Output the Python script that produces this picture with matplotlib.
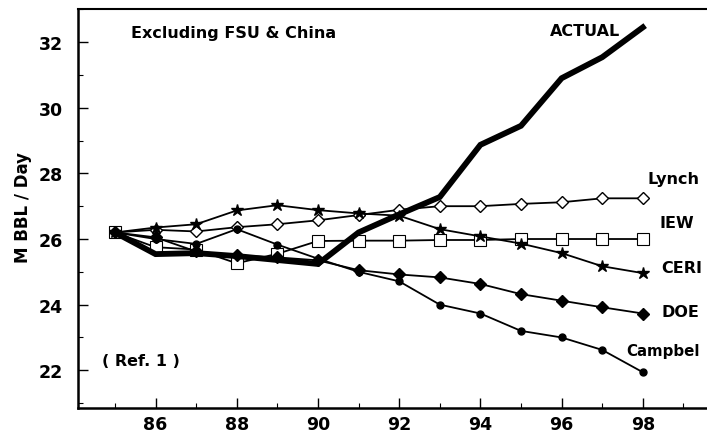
import matplotlib
matplotlib.use('Agg')
import matplotlib.pyplot as plt
from matplotlib.ticker import MultipleLocator

plt.rcParams['font.family'] = ['DejaVu Sans']
plt.rcParams['font.weight'] = 'bold'

# 年份 (19xx)
years = [85, 86, 87, 88, 89, 90, 91, 92, 93, 94, 95, 96, 97, 98]

# 各预测 / 实际产量 M BBL/Day
actual = [26.2, 25.54, 25.57, 25.48, 25.36, 25.24, 26.2, 26.75, 27.28, 28.87, 29.45, 30.9, 31.54, 32.45]
lynch = [26.2, 26.28, 26.23, 26.36, 26.45, 26.57, 26.73, 26.89, 27.0, 27.0, 27.07, 27.12, 27.24, 27.24]
iew = [26.2, 25.75, 25.68, 25.26, 25.55, 25.94, 25.95, 25.95, 25.97, 25.97, 26.0, 26.0, 26.0, 26.0]
ceri = [26.2, 26.35, 26.45, 26.87, 27.03, 26.88, 26.78, 26.71, 26.3, 26.08, 25.86, 25.57, 25.17, 24.96]
doe = [26.2, 26.05, 25.62, 25.5, 25.44, 25.35, 25.05, 24.92, 24.83, 24.63, 24.32, 24.12, 23.92, 23.73]
campbel = [26.2, 26.0, 25.85, 26.3, 25.83, 25.4, 25.0, 24.71, 24.0, 23.73, 23.2, 23.0, 22.62, 21.94]

fig = plt.figure(figsize=(7.07, 4.39), dpi=100)
ax = fig.add_axes([0.1103, 0.0683, 0.8897, 0.909])

lw = 1.3
ax.plot(years, lynch, color='black', lw=lw, marker='D', ms=6, mfc='white', mec='black', mew=1)
ax.plot(years, iew, color='black', lw=lw, marker='s', ms=9, mfc='white', mec='black', mew=0.8)
ax.plot(years, ceri, color='black', lw=lw, marker='*', ms=9, mfc='black', mec='black')
ax.plot(years, doe, color='black', lw=lw, marker='D', ms=6.5, mfc='black', mec='black')
ax.plot(years, campbel, color='black', lw=lw, marker='o', ms=5, mfc='black', mec='black')
ax.plot(years, actual, color='black', lw=4.2, solid_joinstyle='miter')

ax.set_xlim(84.09, 99.58)
ax.set_ylim(20.85, 33.01)
ax.xaxis.set_minor_locator(MultipleLocator(1))
ax.yaxis.set_major_locator(MultipleLocator(2))
ax.yaxis.set_minor_locator(MultipleLocator(1))
ax.set_xticks(range(86, 99, 2))
ax.tick_params(which='major', direction='in', length=7, width=1, labelsize=12.5)
ax.tick_params(which='minor', direction='in', length=3.5, width=0.8)
ax.tick_params(axis='y', pad=11)
ax.tick_params(axis='x', pad=5)
for lab in ax.get_xticklabels() + ax.get_yticklabels():
    lab.set_fontweight('bold')

ax.spines['right'].set_visible(False)
ax.spines['left'].set_linewidth(1.8)
ax.spines['bottom'].set_linewidth(1.8)
ax.spines['top'].set_linewidth(1.5)

ax.set_ylabel('M BBL / Day', fontsize=12, fontweight='bold')
ax.yaxis.set_label_coords(-0.073, 0.506)

tk = dict(transform=ax.transAxes, fontsize=11.5, fontweight='bold', va='center', ha='left')
ax.text(0.0842, 0.942, 'Excluding FSU & China', **tk)
ax.text(0.750, 0.945, 'ACTUAL', **tk)
ax.text(0.905, 0.574, 'Lynch', **tk)
ax.text(0.925, 0.464, 'IEW', **tk)
ax.text(0.928, 0.353, 'CERI', **tk)
ax.text(0.928, 0.243, 'DOE', **tk)
ax.text(0.872, 0.145, 'Campbel', **dict(tk, fontsize=10.8))
ax.text(0.038, 0.118, '( Ref. 1 )', **tk)

fig.savefig('out.png', dpi=100)
